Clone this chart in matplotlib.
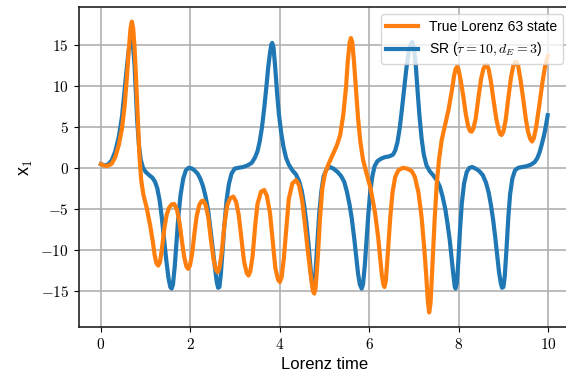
import numpy as np
import matplotlib
matplotlib.use("Agg")
import matplotlib.pyplot as plt
from matplotlib.ticker import FuncFormatter

plt.rcParams['font.family'] = ['Liberation Sans', 'DejaVu Sans']
plt.rcParams['mathtext.fontset'] = 'cm'

# true Lorenz 63 x1
t_true = [0.00, 0.08, 0.16, 0.24, 0.32, 0.40, 0.47, 0.53, 0.58, 0.62, 0.66, 0.69, 0.72, 0.75,
          0.78, 0.82, 0.86, 0.90, 0.95, 1.02, 1.10, 1.16, 1.20, 1.24, 1.28, 1.32, 1.36, 1.42,
          1.47, 1.52, 1.58, 1.64, 1.70, 1.76, 1.81, 1.86, 1.91, 1.95, 1.99, 2.04, 2.09, 2.14,
          2.20, 2.25, 2.29, 2.34, 2.40, 2.46, 2.52, 2.57, 2.61, 2.65, 2.70, 2.76, 2.82, 2.89,
          2.96, 3.02, 3.08, 3.14, 3.20, 3.26, 3.30, 3.34, 3.39, 3.45, 3.50, 3.58, 3.65, 3.71,
          3.78, 3.84, 3.90, 3.96, 4.00, 4.04, 4.09, 4.15, 4.20, 4.28, 4.36, 4.43, 4.50, 4.56,
          4.62, 4.68, 4.74, 4.77, 4.80, 4.85, 4.90, 4.95, 5.01, 5.10, 5.20, 5.28, 5.35, 5.42,
          5.48, 5.52, 5.56, 5.59, 5.62, 5.66, 5.70, 5.75, 5.80, 5.86, 5.94, 6.03, 6.13, 6.20,
          6.24, 6.28, 6.32, 6.34, 6.37, 6.42, 6.47, 6.52, 6.58, 6.65, 6.75, 6.85, 6.95, 7.02,
          7.10, 7.17, 7.23, 7.27, 7.31, 7.34, 7.37, 7.41, 7.46, 7.51, 7.56, 7.62, 7.70, 7.77,
          7.85, 7.90, 7.93, 7.96, 7.99, 8.04, 8.10, 8.16, 8.21, 8.25, 8.29, 8.33, 8.38, 8.44,
          8.50, 8.55, 8.59, 8.63, 8.67, 8.72, 8.78, 8.84, 8.89, 8.93, 8.96, 9.00, 9.05, 9.11,
          9.17, 9.22, 9.26, 9.29, 9.33, 9.38, 9.44, 9.50, 9.55, 9.60, 9.64, 9.68, 9.73, 9.80,
          9.87, 9.93, 9.99]
x_true = [0.45, 0.25, 0.25, 0.5, 1.3, 2.8, 4.8, 7.6, 11.0, 14.2, 16.9, 17.8, 17.0, 14.8,
          11.5, 6.5, 1.5, -1.5, -3.3, -4.8, -7.0, -9.0, -10.6, -11.6, -11.9, -11.5, -10.0, -7.3,
          -5.7, -4.9, -4.45, -4.4, -5.1, -6.8, -8.9, -10.8, -12.0, -12.3, -11.9, -10.4, -8.0, -5.9,
          -4.5, -4.05, -4.0, -4.5, -6.0, -8.8, -11.2, -12.4, -12.7, -12.2, -10.3, -7.0, -4.6, -3.7,
          -3.5, -4.1, -5.7, -8.6, -11.4, -12.8, -13.1, -12.6, -10.8, -7.0, -4.4, -2.9, -2.7, -3.4,
          -5.5, -8.8, -12.2, -13.6, -13.9, -13.3, -11.0, -7.0, -3.8, -1.9, -1.5, -2.1, -4.0, -6.8,
          -9.8, -12.6, -15.0, -15.3, -14.6, -10.8, -6.0, -2.5, -0.7, 0.6, 1.8, 2.8, 4.0, 6.5,
          9.8, 13.0, 15.2, 15.8, 15.3, 12.8, 9.8, 6.0, 3.2, 1.0, -0.7, -2.5, -5.5, -8.5,
          -10.8, -13.0, -14.3, -14.5, -13.8, -10.0, -6.0, -3.0, -1.1, -0.3, 0.0, -0.1, -0.4, -1.1,
          -3.0, -6.0, -9.8, -12.8, -16.2, -17.6, -16.5, -12.2, -6.5, -1.9, 1.0, 3.4, 5.3, 7.0,
          9.5, 11.3, 12.0, 12.3, 12.1, 10.8, 8.8, 6.5, 5.1, 4.5, 4.4, 4.8, 6.0, 8.5,
          10.8, 12.0, 12.45, 12.5, 12.0, 10.5, 8.2, 6.0, 4.7, 4.1, 4.0, 4.4, 5.8, 8.5,
          11.0, 12.4, 12.85, 12.9, 12.4, 10.8, 8.5, 6.0, 4.4, 3.5, 3.2, 3.6, 4.9, 7.5,
          10.3, 12.3, 13.6]

# SR reconstruction (tau=10, d_E=3)
t_sr = [0.00, 0.08, 0.16, 0.24, 0.32, 0.40, 0.47, 0.53, 0.58, 0.62, 0.66, 0.69, 0.72, 0.75,
        0.78, 0.81, 0.85, 0.89, 0.94, 1.00, 1.08, 1.15, 1.21, 1.26, 1.31, 1.36, 1.41, 1.46,
        1.51, 1.55, 1.58, 1.61, 1.65, 1.69, 1.73, 1.78, 1.84, 1.90, 1.96, 2.02, 2.09, 2.16,
        2.22, 2.28, 2.34, 2.40, 2.45, 2.50, 2.55, 2.59, 2.62, 2.65, 2.68, 2.72, 2.76, 2.81,
        2.86, 2.92, 2.99, 3.07, 3.18, 3.28, 3.37, 3.44, 3.50, 3.55, 3.60, 3.65, 3.70, 3.74,
        3.78, 3.81, 3.83, 3.86, 3.90, 3.94, 3.98, 4.03, 4.08, 4.14, 4.20, 4.28, 4.36, 4.43,
        4.49, 4.54, 4.59, 4.64, 4.68, 4.71, 4.74, 4.77, 4.80, 4.84, 4.88, 4.93, 4.98, 5.05,
        5.12, 5.20, 5.29, 5.37, 5.44, 5.50, 5.56, 5.61, 5.66, 5.71, 5.75, 5.79, 5.83, 5.86,
        5.90, 5.94, 5.98, 6.02, 6.07, 6.12, 6.18, 6.26, 6.35, 6.45, 6.53, 6.58, 6.63, 6.68,
        6.73, 6.78, 6.83, 6.88, 6.92, 6.96, 7.00, 7.04, 7.08, 7.12, 7.17, 7.22, 7.28, 7.35,
        7.43, 7.51, 7.58, 7.64, 7.70, 7.75, 7.80, 7.84, 7.88, 7.91, 7.93, 7.96, 7.99, 8.03,
        8.07, 8.12, 8.18, 8.24, 8.30, 8.38, 8.46, 8.54, 8.61, 8.67, 8.72, 8.77, 8.82, 8.86,
        8.90, 8.94, 8.97, 9.00, 9.03, 9.07, 9.11, 9.15, 9.20, 9.26, 9.33, 9.42, 9.52, 9.62,
        9.70, 9.76, 9.81, 9.86, 9.91, 9.95, 9.99]
x_sr = [0.45, 0.3, 0.4, 0.9, 2.0, 3.8, 6.2, 9.5, 12.3, 14.3, 15.3, 15.4, 14.7, 12.6,
        9.3, 5.8, 2.7, 1.0, 0.0, -0.5, -0.9, -1.2, -1.7, -2.5, -3.9, -6.0, -8.6, -11.2,
        -13.4, -14.5, -14.7, -14.2, -12.0, -9.0, -6.0, -3.3, -1.3, -0.3, 0.0, -0.05, -0.3, -0.7,
        -1.3, -2.2, -3.5, -5.3, -7.5, -9.8, -12.2, -13.9, -14.6, -14.5, -13.0, -10.0, -7.0, -3.9,
        -2.0, -0.7, -0.1, 0.0, 0.1, 0.3, 0.6, 1.2, 2.0, 3.2, 4.9, 7.2, 9.9, 12.2,
        14.0, 15.0, 15.2, 14.6, 12.0, 9.0, 6.5, 4.3, 2.6, 1.2, 0.4, -0.3, -0.8, -1.6,
        -2.8, -4.4, -6.5, -9.2, -11.8, -13.6, -14.6, -14.3, -12.5, -9.0, -5.6, -2.8, -1.0, -0.1,
        0.1, -0.1, -0.5, -1.0, -1.7, -2.9, -4.5, -6.2, -8.4, -10.9, -12.9, -14.2, -14.7, -14.2,
        -11.9, -8.8, -5.6, -3.0, -1.0, 0.2, 0.8, 1.1, 1.3, 1.4, 1.6, 2.1, 3.1, 4.8,
        7.1, 9.6, 12.1, 14.0, 15.0, 15.3, 14.5, 12.5, 9.4, 6.5, 3.6, 1.6, 0.3, -0.4,
        -0.9, -1.5, -2.3, -3.5, -5.0, -6.8, -8.8, -10.9, -13.0, -14.4, -14.7, -14.0, -11.5, -7.5,
        -4.3, -1.9, -0.5, 0.0, 0.1, -0.1, -0.4, -0.9, -1.8, -3.0, -4.5, -6.3, -8.6, -10.6,
        -12.6, -14.0, -14.6, -14.5, -13.2, -9.8, -6.0, -3.2, -1.3, -0.3, 0.0, 0.1, 0.2, 0.4,
        0.7, 1.2, 1.9, 2.9, 4.0, 5.1, 6.4]

fig = plt.figure(figsize=(5.66, 3.79), dpi=100)
ax = fig.add_axes([0.1389, 0.1372, 0.8682, 0.8443])

l_sr, = ax.plot(t_sr, x_sr, color='#1f77b4', lw=3, label=r'SR ($\tau = 10, d_E = 3$)')
l_true, = ax.plot(t_true, x_true, color='#ff7f0e', lw=3, label='True Lorenz 63 state')

ax.grid(True, color='#b0b0b0', lw=1.2)
ax.set_xticks([0, 2, 4, 6, 8, 10])
ax.set_yticks([-15, -10, -5, 0, 5, 10, 15])
fmt = FuncFormatter(lambda v, p: r'$%g$' % v)
ax.xaxis.set_major_formatter(fmt)
ax.yaxis.set_major_formatter(fmt)
ax.tick_params(labelsize=11)
ax.set_xlabel('Lorenz time', fontsize=12)
ax.set_ylabel(r'x$_1$', fontsize=13)
for s in ax.spines.values():
    s.set_linewidth(1.2)
    s.set_color('#222222')

ax.legend(handles=[l_true, l_sr], loc='upper right', fontsize=10, handlelength=2.3)

fig.savefig('out.png', dpi=100)
